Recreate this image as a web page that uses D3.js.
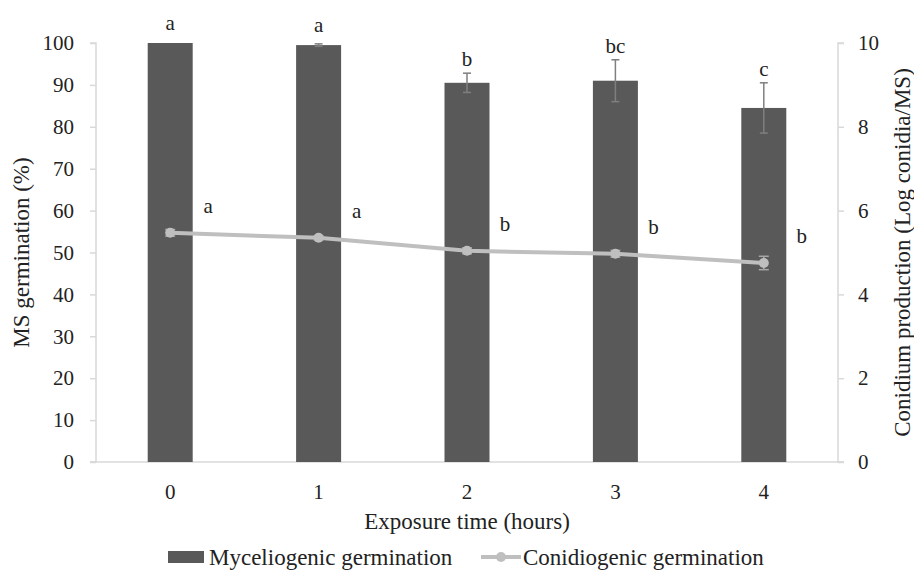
<!DOCTYPE html>
<html>
<head>
    <meta charset="UTF-8">
    <title>MS germination</title>
    <script src="https://cdn.jsdelivr.net/npm/d3@7"></script>
    <style>
        body { margin: 0; background: #fff; }
        text { font-family: "Liberation Serif", "DejaVu Serif", serif; fill: #222; }
    </style>
</head>
<body>
<div id="chart"></div>
<script>
    var hours = ['0', '1', '2', '3', '4'];
    var mycelio = [100, 99.5, 90.5, 91, 84.5];
    var mycelioErr = [0, 0.3, 2.3, 5, 6];
    var mycelioLetters = ['a', 'a', 'b', 'bc', 'c'];
    var conidio = [5.47, 5.35, 5.04, 4.97, 4.75];
    var conidioErr = [0.08, 0.05, 0.07, 0.08, 0.16];
    var conidioLetters = ['a', 'a', 'b', 'b', 'b'];
    var leftTicks = [0, 10, 20, 30, 40, 50, 60, 70, 80, 90, 100];
    var rightTicks = [0, 2, 4, 6, 8, 10];

    (function() {
        var width = 914, height = 572;
        var pLeft = 96, pRight = 838, pTop = 43, pBottom = 462;
        var barColor = '#595959', lineColor = '#bfbfbf', axisColor = '#d9d9d9';
        var tickFont = '21px', titleFont = '23px';

        var svg = d3.select('#chart').append('svg')
            .attr('width', width)
            .attr('height', height);

        var x = d3.scaleBand().domain(hours).range([pLeft, pRight]);
        var yL = d3.scaleLinear().domain([0, 100]).range([pBottom, pTop]);
        var yR = d3.scaleLinear().domain([0, 10]).range([pBottom, pTop]);
        var barW = 45;
        var cx = function(i) { return x(hours[i]) + x.bandwidth() / 2; };

        // axes
        var gl = svg.append('g').attr('transform', 'translate(' + pLeft + ',0)')
            .call(d3.axisLeft(yL).tickValues(leftTicks).tickSize(6).tickPadding(16));
        var gr = svg.append('g').attr('transform', 'translate(' + pRight + ',0)')
            .call(d3.axisRight(yR).tickValues(rightTicks).tickSize(6).tickPadding(14));
        var gb = svg.append('g').attr('transform', 'translate(0,' + pBottom + ')')
            .call(d3.axisBottom(x).tickSize(0).tickPadding(22));
        [gl, gr, gb].forEach(function(g) {
            g.selectAll('.domain').attr('stroke', axisColor).attr('stroke-width', 1.5);
            g.selectAll('.tick line').attr('stroke', axisColor).attr('stroke-width', 1.5);
            g.selectAll('text').style('font-size', tickFont).attr('fill', '#222')
                .style('font-family', '"Liberation Serif", serif');
        });
        gl.select('.domain').attr('d', 'M-6,' + pTop + 'H0V' + pBottom + 'H-6');
        gr.select('.domain').attr('d', 'M6,' + pTop + 'H0V' + pBottom + 'H6');
        gb.select('.domain').attr('d', 'M' + (pLeft - 6) + ',0H' + (pRight + 6));

        // bars
        svg.selectAll('rect.bar').data(mycelio).enter().append('rect')
            .attr('class', 'bar')
            .attr('x', function(d, i) { return cx(i) - barW / 2; })
            .attr('y', function(d) { return yL(d); })
            .attr('width', barW)
            .attr('height', function(d) { return pBottom - yL(d); })
            .attr('fill', barColor);

        // bar error bars
        var be = svg.append('g').attr('stroke', '#7f7f7f').attr('stroke-width', 1.5);
        mycelio.forEach(function(d, i) {
            if (!mycelioErr[i]) return;
            var c = cx(i);
            be.append('line').attr('x1', c).attr('x2', c)
                .attr('y1', yL(d - mycelioErr[i])).attr('y2', yL(d + mycelioErr[i]));
            [d - mycelioErr[i], d + mycelioErr[i]].forEach(function(v) {
                be.append('line').attr('x1', c - 4).attr('x2', c + 4)
                    .attr('y1', yL(v)).attr('y2', yL(v));
            });
        });

        svg.selectAll('text.bl').data(mycelioLetters).enter().append('text')
            .attr('class', 'bl')
            .attr('x', function(d, i) { return cx(i); })
            .attr('y', function(d, i) {
                return Math.min(yL(mycelio[i] + mycelioErr[i]) - 7, yL(mycelio[i]) - 13);
            })
            .attr('text-anchor', 'middle')
            .style('font-size', tickFont)
            .text(function(d) { return d; });

        // line
        var line = d3.line()
            .x(function(d, i) { return cx(i); })
            .y(function(d) { return yR(d); });
        svg.append('path').datum(conidio)
            .attr('d', line)
            .attr('fill', 'none')
            .attr('stroke', lineColor)
            .attr('stroke-width', 4);

        var le = svg.append('g').attr('stroke', '#a6a6a6').attr('stroke-width', 1.5);
        conidio.forEach(function(d, i) {
            var c = cx(i);
            le.append('line').attr('x1', c).attr('x2', c)
                .attr('y1', yR(d - conidioErr[i])).attr('y2', yR(d + conidioErr[i]));
            [d - conidioErr[i], d + conidioErr[i]].forEach(function(v) {
                le.append('line').attr('x1', c - 5).attr('x2', c + 5)
                    .attr('y1', yR(v)).attr('y2', yR(v));
            });
        });
        svg.selectAll('circle.pt').data(conidio).enter().append('circle')
            .attr('class', 'pt')
            .attr('cx', function(d, i) { return cx(i); })
            .attr('cy', function(d) { return yR(d); })
            .attr('r', 5)
            .attr('fill', lineColor);

        svg.selectAll('text.ll').data(conidioLetters).enter().append('text')
            .attr('class', 'll')
            .attr('x', function(d, i) { return cx(i) + 38; })
            .attr('y', function(d, i) { return yR(conidio[i]) - 20; })
            .attr('text-anchor', 'middle')
            .style('font-size', tickFont)
            .text(function(d) { return d; });

        // titles
        svg.append('text')
            .attr('x', (pLeft + pRight) / 2).attr('y', 529)
            .attr('text-anchor', 'middle').style('font-size', titleFont)
            .text('Exposure time (hours)');
        svg.append('text')
            .attr('transform', 'translate(29,' + (pTop + pBottom) / 2 + ') rotate(-90)')
            .attr('text-anchor', 'middle').style('font-size', titleFont)
            .text('MS germination (%)');
        svg.append('text')
            .attr('transform', 'translate(910,' + (pTop + pBottom) / 2 + ') rotate(-90)')
            .attr('text-anchor', 'middle').style('font-size', titleFont)
            .text('Conidium production (Log conidia/MS)');

        // legend
        var lg = svg.append('g');
        lg.append('rect').attr('x', 168).attr('y', 551).attr('width', 36).attr('height', 12).attr('fill', barColor);
        lg.append('text').attr('x', 209).attr('y', 565).style('font-size', titleFont).text('Myceliogenic germination');
        lg.append('line').attr('x1', 481).attr('x2', 521).attr('y1', 557).attr('y2', 557)
            .attr('stroke', lineColor).attr('stroke-width', 4);
        lg.append('circle').attr('cx', 501).attr('cy', 557).attr('r', 5).attr('fill', lineColor);
        lg.append('text').attr('x', 523).attr('y', 565).style('font-size', titleFont).text('Conidiogenic germination');
    })();
</script>
</body>
</html>
